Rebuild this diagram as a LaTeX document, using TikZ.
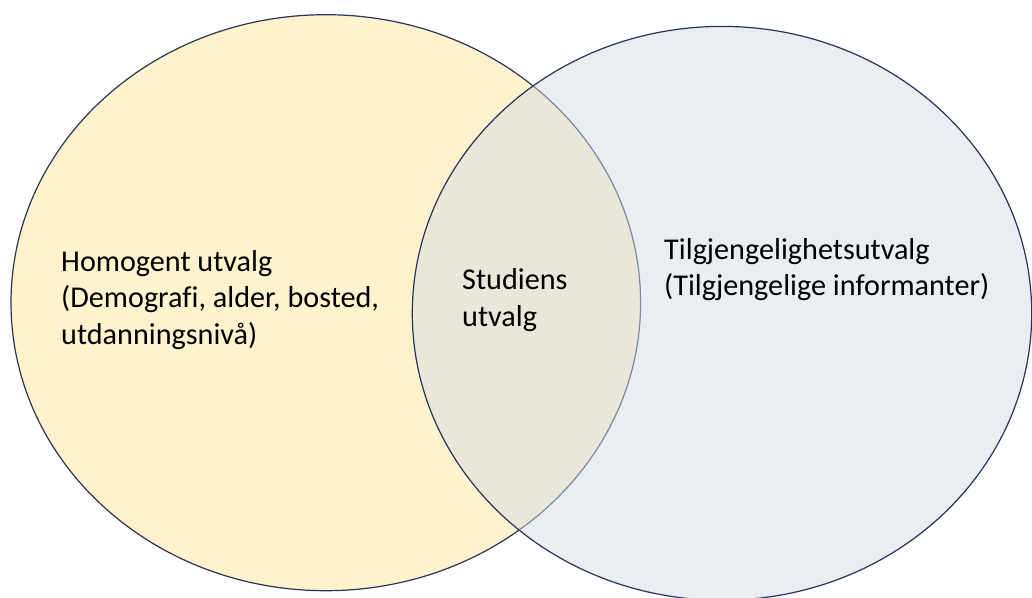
\documentclass[tikz,border=0pt]{standalone}
\usepackage{fontspec}
\setmainfont{Carlito}[Ligatures=NoCommon]
\usetikzlibrary{shapes.geometric}
\definecolor{setline}{HTML}{25355A}
\definecolor{homogfill}{HTML}{FFF2CC}
\definecolor{tilgfill}{HTML}{D6DCE5}
\begin{document}
\begin{tikzpicture}[
  x=1pt, y=-1pt,
  setellipse/.style={ellipse, draw=setline, line width=1.2pt, inner sep=0pt},
  setlabel/.style={anchor=base west, align=left, inner sep=0pt,
    font=\fontsize{30.2}{36.5}\selectfont},
]
  \useasboundingbox (0,0) rectangle (1032,597);

  % Sets
  \node[setellipse, fill=homogfill, minimum width=629.6pt, minimum height=576pt]
    (homog) at (325.8,302.7) {};
  \node[setellipse, fill=tilgfill, fill opacity=0.5,
    minimum width=619.4pt, minimum height=573.8pt]
    (tilg) at (722,313.3) {};

  % Labels (anchored at the baseline of their last line)
  \node[setlabel] (homoglabel) at (61,344)
    {Homogent utvalg\\(Demografi, alder, bosted,\\utdanningsnivå)};
  \node[setlabel] (studlabel) at (462,326) {Studiens\\utvalg};
  \node[setlabel] (tilglabel) at (664,295.8)
    {Tilgjengelighetsutvalg\\(Tilgjengelige informanter)};
\end{tikzpicture}
\end{document}
